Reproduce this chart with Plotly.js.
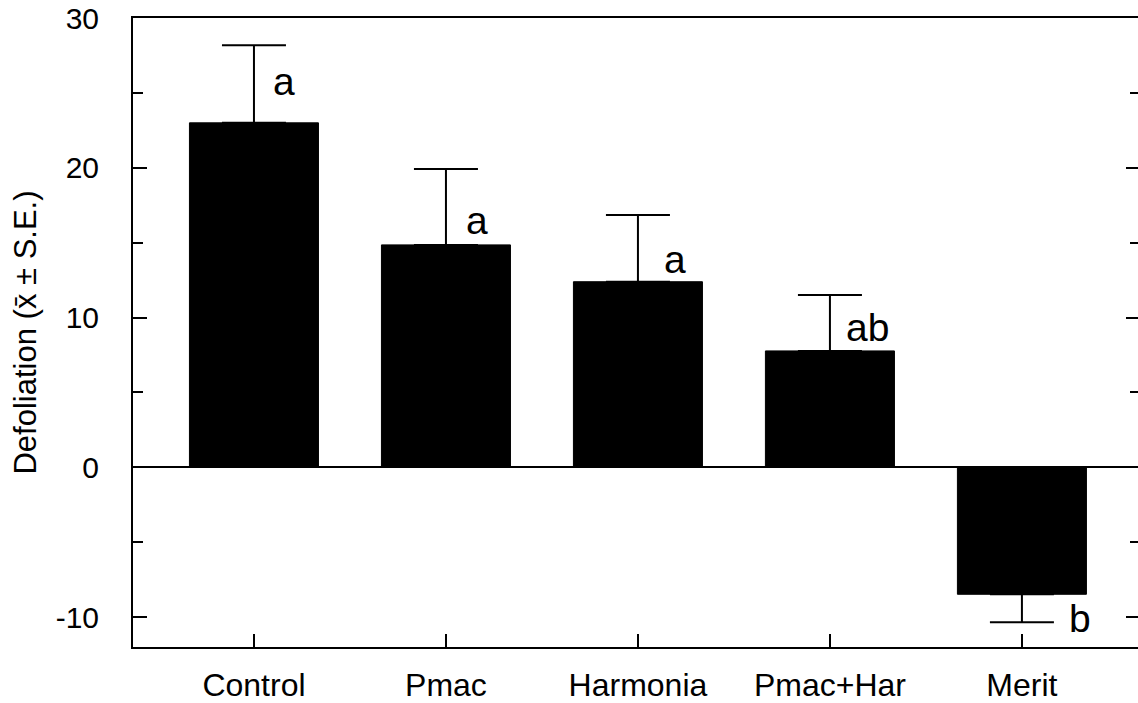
<!DOCTYPE html>
<html>
<head>
<meta charset="utf-8">
<script src="https://cdn.plot.ly/plotly-3.0.1.min.js"></script>
<style>
  html, body { margin: 0; padding: 0; overflow: hidden; background: #fff; }
  #chart { width: 1142px; height: 703px; }
</style>
</head>
<body>
<div id="chart"></div>
<script>
// ---- data ----
const categories = ['Control', 'Pmac', 'Harmonia', 'Pmac+Har', 'Merit'];
const meanDefoliation = [23.0, 14.85, 12.39, 7.77, -8.48];
const seUpper = [5.18, 5.07, 4.45, 3.73, null];
const seLower = [null, null, null, null, 1.86];
const letters = ['a', 'a', 'a', 'ab', 'b'];
const letterLevel = [25.75, 16.5, 13.85, 9.35, -10.13];
const yTickValues = [-10, 0, 10, 20, 30];

// ---- layout helpers (placement, not data) ----
const letterXOffset = [0.159, 0.164, 0.195, 0.195, 0.302];
const FONT = 'Liberation Sans, Arial, Helvetica, sans-serif';

const trace = {
  type: 'bar',
  x: categories.map((c, i) => i),
  y: meanDefoliation,
  width: 0.672,
  marker: { color: '#000000', line: { width: 1, color: '#000000' } },
  error_y: {
    type: 'data',
    symmetric: false,
    array: seUpper,
    arrayminus: seLower,
    color: '#000000',
    thickness: 2,
    width: 32
  },
  hoverinfo: 'skip'
};

const annotations = letters.map((t, i) => ({
  x: i + letterXOffset[i],
  y: letterLevel[i],
  xref: 'x', yref: 'y',
  text: t,
  showarrow: false,
  xanchor: 'center', yanchor: 'middle',
  font: { family: FONT, size: 39, color: '#000' }
}));

const layout = {
  width: 1142,
  height: 703,
  margin: { l: 133, r: 2, t: 18, b: 56, pad: 0 },
  paper_bgcolor: '#ffffff',
  plot_bgcolor: '#ffffff',
  showlegend: false,
  font: { family: FONT, color: '#000' },
  xaxis: {
    type: 'linear',
    range: [-0.63, 4.615],
    tickmode: 'array',
    tickvals: categories.map((c, i) => i),
    ticktext: categories,
    ticks: 'inside',
    ticklen: 13,
    tickwidth: 2,
    tickcolor: '#000',
    showline: true,
    linewidth: 2,
    linecolor: '#000',
    mirror: true,
    showgrid: false,
    zeroline: false,
    tickfont: { family: FONT, size: 32, color: '#000' },
    ticklabelstandoff: 9
  },
  yaxis: {
    range: [-12, 30],
    tickmode: 'array',
    tickvals: yTickValues,
    ticktext: yTickValues.map(String),
    ticks: 'inside',
    ticklen: 14,
    tickwidth: 2,
    tickcolor: '#000',
    minor: { dtick: 5, tick0: 0, ticks: 'inside', ticklen: 10, tickwidth: 2, tickcolor: '#000', showgrid: false },
    showline: true,
    linewidth: 2,
    linecolor: '#000',
    mirror: 'ticks',
    showgrid: false,
    zeroline: true,
    zerolinecolor: '#000',
    zerolinewidth: 2,
    tickfont: { family: FONT, size: 30, color: '#000' },
    ticklabelstandoff: 26,
    title: {
      text: 'Defoliation (x\u0304 \u00B1 S.E.)',
      font: { family: FONT, size: 31, color: '#000' },
      standoff: 10
    }
  },
  annotations: annotations
};

Plotly.newPlot('chart', [trace], layout, { displayModeBar: false, staticPlot: true });
</script>
</body>
</html>
